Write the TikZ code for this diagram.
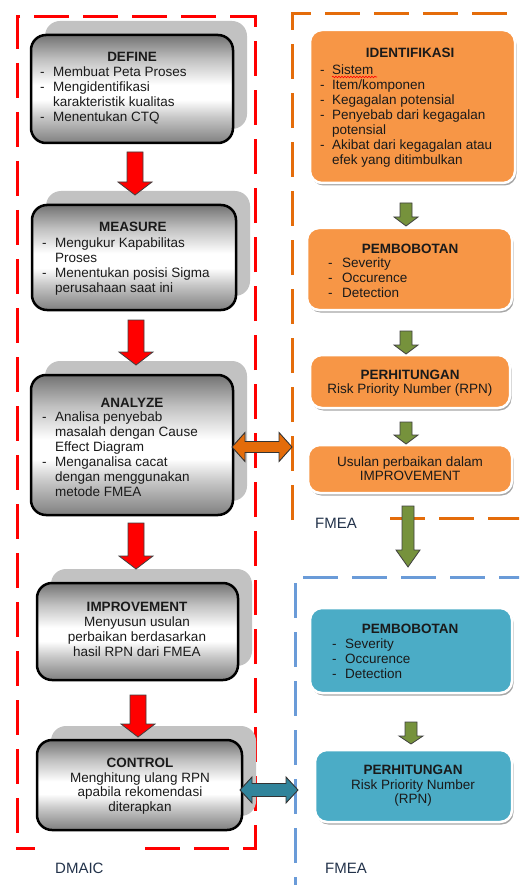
\documentclass[tikz,border=0pt]{standalone}
\usepackage{fontspec}
\setmainfont{Liberation Sans}
\usetikzlibrary{shadows,decorations.pathmorphing,calc}
\definecolor{ofill}{HTML}{F79646}
\definecolor{bfill}{HTML}{4BACC6}
\definecolor{gfill}{HTML}{76923C}
\definecolor{oarrow}{HTML}{E46C0A}
\definecolor{barrow}{HTML}{31849B}
\definecolor{oline}{HTML}{E46C0A}
\definecolor{bline}{HTML}{6A9BD8}
\definecolor{txt}{HTML}{1A1A1A}
\definecolor{lbl}{HTML}{22324A}
\pgfdeclareverticalshading{lshade}{100bp}{color(0bp)=(black!50); color(25bp)=(black!50); color(37bp)=(black!22); color(45bp)=(white); color(52bp)=(white); color(64bp)=(black!25); color(75bp)=(black!55); color(100bp)=(black!55)}
\newcommand\fs{\fontsize{13.5}{15}\selectfont}
\newcommand\bl{\makebox[13pt][l]{-}}
\newcommand\nb{\hspace*{13pt}}
\newcommand\blkV[6]{\draw[#1] let \p1=#2, \p2=#3 in (\x1-#4,\y1) -- (\x1+#4,\y1) -- (\x1+#4,\y2+#6) -- (\x1+#5,\y2+#6) -- (\x1,\y2) -- (\x1-#5,\y2+#6) -- (\x1-#4,\y2+#6) -- cycle;}
\newcommand\blkH[6]{\draw[#1] let \p1=#2, \p2=#3 in (\x1,\y1) -- (\x1+#6,\y1+#5) -- (\x1+#6,\y1+#4) -- (\x2-#6,\y1+#4) -- (\x2-#6,\y1+#5) -- (\x2,\y1) -- (\x2-#6,\y1-#5) -- (\x2-#6,\y1-#4) -- (\x1+#6,\y1-#4) -- (\x1+#6,\y1-#5) -- cycle;}
\tikzset{
 frame/.style={line width=3pt, dash pattern=on 35pt off 14pt},
 lbox/.style={general shadow={shadow xshift=14pt, shadow yshift=14pt, fill=black!24},
   draw=black, line width=2.5pt, rounded corners=15pt, shading=lshade, inner sep=0pt, outer sep=0pt},
 cbox/.style={draw=white, line width=2.5pt, rounded corners=12pt, inner sep=0pt, outer sep=0pt,
   drop shadow={shadow xshift=1.5pt, shadow yshift=-2.5pt, opacity=0.35, fill=black}},
 ttl/.style={font=\fs\bfseries, text=txt, inner sep=0pt, anchor=base},
 lst/.style={font=\fs, text=txt, inner sep=0pt, align=left, anchor=north west},
 ctr/.style={font=\fs, text=txt, inner sep=0pt, align=center, anchor=north},
 lab/.style={font=\fontsize{15}{17}\selectfont, text=lbl, inner sep=0pt, anchor=base west},
 redarr/.style={fill=red, draw=black!75, line width=0.8pt},
 grnarr/.style={fill=gfill, draw=black!75, line width=0.8pt},
 orarr/.style={fill=oarrow, draw=black!80, line width=0.9pt},
 blarr/.style={fill=barrow, draw=black!80, line width=0.9pt},
}
\begin{document}
\begin{tikzpicture}[x=1pt,y=-1pt]
\useasboundingbox (0,0) rectangle (519,885);
\clip (0,0) rectangle (519,885);
% frames
\draw[frame, red] (145,848) -- (255,848) -- (255,17) -- (17,17) -- (17,848) -- (35,848);
\draw[frame, oline] (292,520) -- (292,14) -- (530,14);
\draw[frame, oline] (390,518) -- (530,518);
\draw[frame, bline] (303,577) -- (530,577);
\draw[frame, bline] (295,583) -- (295,895);
\coordinate (oend) at (292,447);
\coordinate (bend) at (298,790);
% left boxes
\node[lbox, minimum width=202pt, minimum height=108pt] (define) at (132,89) {};
\node[lbox, minimum width=204pt, minimum height=105pt] (measure) at (134,257.5) {};
\node[lbox, minimum width=202pt, minimum height=140pt] (analyze) at (132,445) {};
\node[lbox, minimum width=201pt, minimum height=97pt] (improve) at (137.5,631.5) {};
\node[lbox, minimum width=205pt, minimum height=90pt] (control) at (139.5,785) {};
% right boxes
\node[cbox, fill=ofill, minimum width=205pt, minimum height=153pt] (ident) at (412.5,106.5) {};
\node[cbox, fill=ofill, minimum width=205pt, minimum height=82pt] (opemb) at (409.5,269) {};
\node[cbox, fill=ofill, minimum width=200pt, minimum height=53pt] (operh) at (410,381.5) {};
\node[cbox, fill=ofill, minimum width=204pt, minimum height=48pt] (ousul) at (410,469) {};
\node[cbox, fill=bfill, minimum width=202pt, minimum height=85pt] (bpemb) at (411,650.5) {};
\node[cbox, fill=bfill, minimum width=197pt, minimum height=72pt] (bperh) at (413.5,786) {};
% red arrows
\blkV{redarr}{($(define.south)+(3,9)$)}{($(measure.north)+(1,-10)$)}{8pt}{17pt}{13pt}
\blkV{redarr}{($(measure.south)+(2,10)$)}{($(analyze.north)+(4,-10)$)}{8pt}{17pt}{13pt}
\blkV{redarr}{($(analyze.south)+(4,8)$)}{($(improve.north)+(-1.5,-14)$)}{8pt}{17pt}{13pt}
\blkV{redarr}{($(improve.south)+(0.5,15)$)}{($(control.north)+(-1.5,-3)$)}{8pt}{17pt}{13pt}
% green arrows
\blkV{grnarr}{($(ident.south)+(-6.5,20)$)}{($(opemb.north)+(-3.5,-2)$)}{6pt}{12pt}{9pt}
\blkV{grnarr}{($(opemb.south)+(-3.5,21)$)}{($(operh.north)+(-4,-1)$)}{6pt}{12pt}{9pt}
\blkV{grnarr}{($(operh.south)+(-4,14)$)}{($(ousul.north)+(-4,-1)$)}{6pt}{12pt}{9pt}
\blkV{grnarr}{($(ousul.south)+(-2,13)$)}{($(bpemb.north)+(-3,-41)$)}{6pt}{12pt}{17pt}
\blkV{grnarr}{($(bpemb.south)+(0,29)$)}{($(bperh.north)+(-2.5,-6)$)}{6pt}{12pt}{8pt}
% double arrows
\blkH{orarr}{($(analyze.east)+(-1,2)$)}{(oend)}{5.5pt}{14.5pt}{13pt}
\blkH{blarr}{($(control.east)+(-2,5)$)}{(bend)}{6.5pt}{13pt}{12pt}
% left texts
\node[ttl] (defT) at (132,62) {DEFINE};
\node[lst] (defL) at (40,67) {\bl Membuat Peta Proses\\\bl Mengidentifikasi\\\nb karakteristik kualitas\\\bl Menentukan CTQ};
\node[ttl] (meaT) at (133,232) {MEASURE};
\node[lst] (meaL) at (42,238) {\bl Mengukur Kapabilitas\\\nb Proses\\\bl Menentukan posisi Sigma\\\nb perusahaan saat ini};
\node[ttl] (anaT) at (132,407) {ANALYZE};
\node[lst] (anaL) at (42,412) {\bl Analisa penyebab\\\nb masalah dengan Cause\\\nb Effect Diagram\\\bl Menganalisa cacat\\\nb dengan menggunakan\\\nb metode FMEA};
\node[ctr] (impT) at (137,602) {\textbf{IMPROVEMENT}\\Menyusun usulan\\perbaikan berdasarkan\\hasil RPN dari FMEA};
\node[ctr, font=\fontsize{13.5}{14.5}\selectfont] (conT) at (140,758) {\textbf{CONTROL}\\Menghitung ulang RPN\\apabila rekomendasi\\diterapkan};
% right texts
\node[ttl] (idT) at (410,58) {IDENTIFIKASI};
\node[lst] (idL) at (320,65) {\makebox[12pt][l]{-}Sistem\\\makebox[12pt][l]{-}Item/komponen\\\makebox[12pt][l]{-}Kegagalan potensial\\\makebox[12pt][l]{-}Penyebab dari kegagalan\\\hspace*{12pt}potensial\\\makebox[12pt][l]{-}Akibat dari kegagalan atau\\\hspace*{12pt}efek yang ditimbulkan};
\draw[red, line width=0.6pt, decorate, decoration={snake, amplitude=0.8pt, segment length=3pt}] (332,77) -- (377,77);
\node[ttl] (opT) at (410,253) {PEMBOBOTAN};
\node[lst] (opL) at (328,258) {\makebox[14pt][l]{-}Severity\\\makebox[14pt][l]{-}Occurence\\\makebox[14pt][l]{-}Detection};
\node[ctr, font=\fontsize{13.5}{14}\selectfont] (ohT) at (410,370) {\textbf{PERHITUNGAN}\\Risk Priority Number (RPN)};
\node[ctr, font=\fontsize{13.5}{14}\selectfont] (ouT) at (410,457) {Usulan perbaikan dalam\\IMPROVEMENT};
\node[ttl] (bpT) at (410,633) {PEMBOBOTAN};
\node[lst] (bpL) at (332,639) {\makebox[13pt][l]{-}Severity\\\makebox[13pt][l]{-}Occurence\\\makebox[13pt][l]{-}Detection};
\node[ctr, font=\fontsize{13.5}{14.5}\selectfont] (bhT) at (413,765) {\textbf{PERHITUNGAN}\\Risk Priority Number\\(RPN)};
% labels
\node[lab] (dmaic) at (55,873) {DMAIC};
\node[lab] (fmea1) at (315,528) {FMEA};
\node[lab] (fmea2) at (325,873) {FMEA};
\end{tikzpicture}
\end{document}
